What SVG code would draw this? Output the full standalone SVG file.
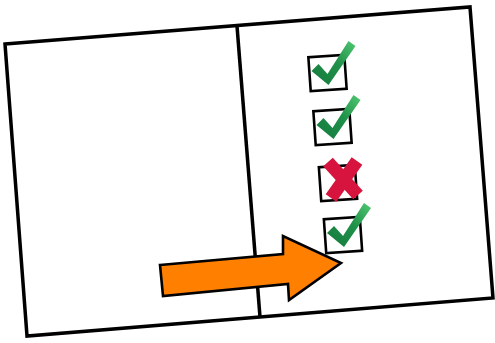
<svg xmlns="http://www.w3.org/2000/svg" width="495" height="343" viewBox="0 0 495 343">
  <style>
    .frame{fill:#fff;stroke:#000;stroke-width:3.5;stroke-linejoin:miter}
    .line{stroke:#000;stroke-width:3.5;fill:none}
    .box{fill:#fff;stroke:#000;stroke-width:2.6}
    .xmark{stroke:#d6143e;stroke-width:13;fill:none}
    .arrow{fill:#ff8000;stroke:#000;stroke-width:2.6;stroke-linejoin:miter}
  </style>
  <defs>
    <linearGradient id="gcheck" x1="0" y1="1" x2="1" y2="0">
      <stop offset="0" stop-color="#157a3e"/>
      <stop offset="0.55" stop-color="#1f9149"/>
      <stop offset="1" stop-color="#52c873"/>
    </linearGradient>
    <g id="check">
      <polygon points="-16,-2 -9,-9 0,1 21,-32 28,-27 1,12" fill="url(#gcheck)"/>
    </g>
    <rect id="cbox" x="-18" y="-17" width="36" height="34" class="box"/>
  </defs>
  <rect width="495" height="343" fill="#fff"/>
  <g id="frame">
    <polygon class="frame" points="5,44 470,7 493,298 27,336"/>
    <line class="line" x1="237" y1="26" x2="260" y2="317"/>
  </g>
  <g id="item1" transform="translate(327.5,73)">
    <use href="#cbox" transform="rotate(-4)"/>
    <use href="#check"/>
  </g>
  <g id="item2" transform="translate(332.5,127)">
    <use href="#cbox" transform="rotate(-4)"/>
    <use href="#check"/>
  </g>
  <g id="item3" transform="translate(338,183)">
    <use href="#cbox" transform="rotate(-4)"/>
    <line class="xmark" x1="-10" y1="-21" x2="20" y2="12"/>
    <line class="xmark" x1="19" y1="-22" x2="-7" y2="15"/>
  </g>
  <g id="item4" transform="translate(343,235)">
    <use href="#cbox" transform="rotate(-4)"/>
    <use href="#check"/>
  </g>
  <g id="connectors">
    <polygon class="arrow" points="160,265 283,254 283,236 341,263 289,300 288,284 163,296"/>
  </g>
</svg>
